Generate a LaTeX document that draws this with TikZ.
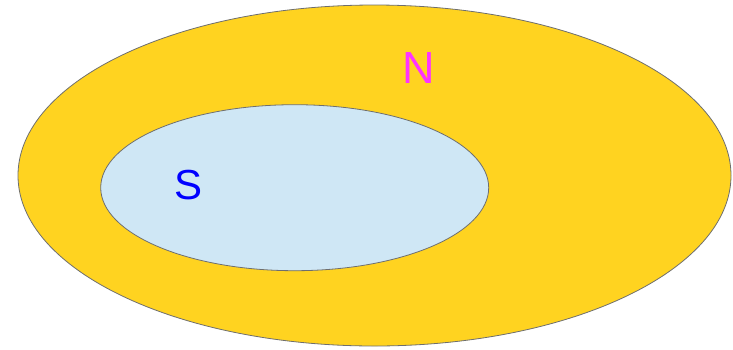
\documentclass[tikz,border=0pt]{standalone}
\usepackage{fontspec}
\setmainfont{Liberation Sans}
\definecolor{setyellow}{HTML}{FFD320}
\definecolor{setblue}{HTML}{CFE7F5}
\definecolor{rimgray}{HTML}{6E6E6E}
\definecolor{labelpink}{HTML}{FF33FF}
\begin{document}
\begin{tikzpicture}[x=1pt,y=-1pt]
        \def\aN{356.5}
        \def\bN{170.5}
        \def\aS{194}
        \def\bS{83}
        \useasboundingbox (0,0) rectangle (733,349);
        % 绘制大椭圆 N
        \fill[setyellow] (374.5,175.5) ellipse ({\aN} and {\bN});
        \draw[rimgray, line width=0.8pt] (374.5,175.5) ellipse ({\aN} and {\bN});
        % 绘制小椭圆 S
        \fill[setblue] (294.7,187.7) ellipse ({\aS} and {\bS});
        \draw[rimgray, line width=0.8pt] (294.7,187.7) ellipse ({\aS} and {\bS});
        \node[labelpink, inner sep=0pt, font=\fontsize{45}{54}\selectfont] (labN) at (418.9, 68) {N};
        \node[blue, inner sep=0pt, font=\fontsize{42}{50}\selectfont] (labS) at (188.9, 185.4) {S};
    \end{tikzpicture}
\end{document}
